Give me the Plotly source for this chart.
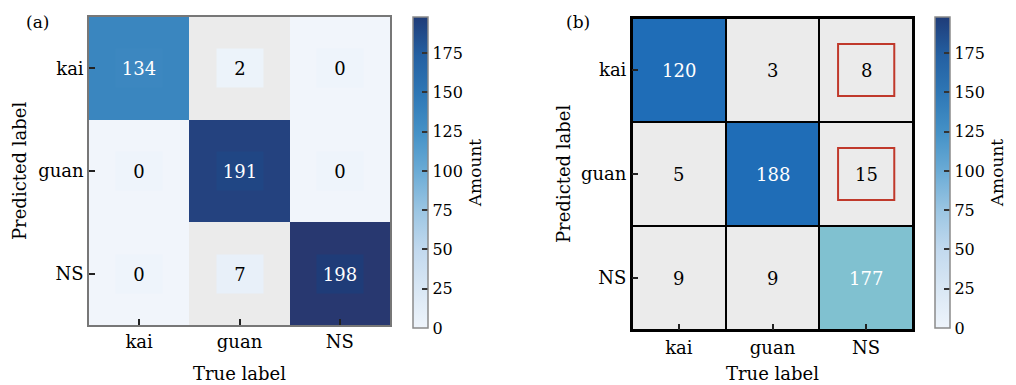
import plotly.graph_objects as go
from plotly.colors import sample_colorscale

# ---------------- data ----------------
labels = ["kai", "guan", "NS"]
values_a = [[134, 2, 0],
            [0, 191, 0],
            [0, 7, 198]]
values_b = [[120, 3, 8],
            [5, 188, 15],
            [9, 9, 177]]
highlight_b = [("NS", "kai"), ("NS", "guan")]  # (true, predicted)
cbar_ticks = [0, 25, 50, 75, 100, 125, 150, 175]

# ---------------- styles ----------------
FONT = "DejaVu Serif"
vmax = max(max(r) for r in values_a + values_b)

bar_scale = [[0.0, "#eef4fb"], [0.125, "#d9e7f4"], [0.25, "#c2d9ee"], [0.375, "#9cc6e3"],
             [0.5, "#6cacd6"], [0.625, "#4592c7"], [0.75, "#2f78b6"], [0.875, "#2460a2"],
             [1.0, "#1f3c78"]]

cell_scale_a = [[0.0, "#f1f5fb"], [0.004, "#f1f5fb"], [0.004, "#ebebeb"], [0.06, "#ebebeb"],
                [0.06, "#c6dbef"], [0.677, "#3a86bf"], [0.965, "#24427f"], [1.0, "#283870"]]
cell_scale_b = [[0.0, "#ebebeb"], [0.1, "#ebebeb"], [0.1, "#1f6db7"], [0.85, "#1f6db7"],
                [0.85, "#80c1d0"], [0.92, "#80c1d0"], [0.92, "#1f6db7"], [1.0, "#1f6db7"]]

# page has an 8px body margin; figure sized so it ends at the window edge
OFF = 8
W, H = 1016 - OFF, 385 - OFF


def px(x):
    return (x - OFF) / W


def py(y):
    return (385 - y) / H


dom_a = dict(x=(px(89), px(390)), y=(py(325), py(17)))
dom_b = dict(x=(px(632), px(913)), y=(py(330), py(18)))

fig = go.Figure()

# heatmaps
fig.add_trace(go.Heatmap(z=values_a, x=labels, y=labels, colorscale=cell_scale_a,
                         zmin=0, zmax=vmax, showscale=False, hoverinfo="skip",
                         xaxis="x", yaxis="y"))
fig.add_trace(go.Heatmap(z=values_b, x=labels, y=labels, colorscale=cell_scale_b,
                         zmin=0, zmax=vmax, showscale=False, hoverinfo="skip",
                         xgap=2, ygap=2, xaxis="x2", yaxis="y2"))


def cbar(xpix):
    return dict(x=px(xpix), xanchor="left", xpad=0, y=py(17), yanchor="top", ypad=0,
                thickness=15, len=311, lenmode="pixels",
                outlinecolor="#8a8a8a", outlinewidth=1.5,
                ticks="inside", ticklen=6, tickcolor="#333", tickwidth=1.5,
                tickvals=cbar_ticks, tickfont=dict(family=FONT, size=16, color="black"),
                title=dict(text="Amount", side="right",
                           font=dict(family=FONT, size=17, color="black")))


# colorbars (invisible carrier traces)
for ax, ay, xp in (("x", "y", 413), ("x2", "y2", 935)):
    fig.add_trace(go.Scatter(x=[labels[0]], y=[labels[0]], mode="markers",
                             marker=dict(color=[0], cmin=0, cmax=vmax, colorscale=bar_scale,
                                         showscale=True, colorbar=cbar(xp), opacity=0, size=1),
                             hoverinfo="skip", showlegend=False, xaxis=ax, yaxis=ay))

annotations = []
# cell numbers
for vals, xr, yr, boxed in ((values_a, "x", "y", True), (values_b, "x2", "y2", False)):
    for i, row in enumerate(vals):
        for j, v in enumerate(row):
            a = dict(x=labels[j], y=labels[i], xref=xr, yref=yr, text=str(v), showarrow=False,
                     font=dict(family=FONT, size=18, color="white" if v > 100 else "black"))
            if boxed:
                a.update(bgcolor=sample_colorscale(bar_scale, [v / vmax])[0], width=44, height=36)
            annotations.append(a)


def txt(x, y, text, size=18, angle=0):
    return dict(x=x, y=y, xref="paper", yref="paper", text=text, textangle=angle,
                xanchor="center", yanchor="middle", showarrow=False,
                font=dict(family=FONT, size=size, color="black"))


# axis titles & panel labels
for dom, xt in ((dom_a, 20), (dom_b, 563)):
    ymid = (dom["y"][0] + dom["y"][1]) / 2
    xmid = (dom["x"][0] + dom["x"][1]) / 2
    annotations.append(txt(px(xt), ymid, "Predicted label", angle=-90))
    annotations.append(txt(xmid, py(373), "True label"))
annotations.append(txt(px(37), py(22), "(a)", size=17))
annotations.append(txt(px(578), py(22), "(b)", size=17))

# red highlight boxes
shapes = []
for tx, pyl in highlight_b:
    xi, yi = labels.index(tx), labels.index(pyl)
    shapes.append(dict(type="rect", xref="x2", yref="y2", x0=xi - 0.3, x1=xi + 0.3,
                       y0=yi - 0.25, y1=yi + 0.25, line=dict(color="#c0392b", width=2)))


def ax_style(dom, lc, lw):
    return dict(domain=dom, categoryorder="array", categoryarray=labels,
                ticks="inside", ticklen=6, tickcolor="#222", tickwidth=1.5,
                showline=True, mirror=True, linecolor=lc, linewidth=lw, showgrid=False,
                zeroline=False, tickfont=dict(family=FONT, size=18, color="black"))


fig.update_layout(
    width=W, height=H, margin=dict(l=0, r=0, t=0, b=0),
    paper_bgcolor="white", plot_bgcolor="black",
    xaxis=dict(**ax_style(dom_a["x"], "#777", 1.5), anchor="y", range=[-0.5, 2.5]),
    yaxis=dict(**ax_style(dom_a["y"], "#777", 1.5), anchor="x", range=[2.5, -0.5]),
    xaxis2=dict(**ax_style(dom_b["x"], "black", 2), anchor="y2", range=[-0.5, 2.5]),
    yaxis2=dict(**ax_style(dom_b["y"], "black", 2), anchor="x2", range=[2.5, -0.5]),
    annotations=annotations, shapes=shapes, showlegend=False,
)
fig.update_xaxes(ticklabelstandoff=0)

fig.write_html("out.html")
